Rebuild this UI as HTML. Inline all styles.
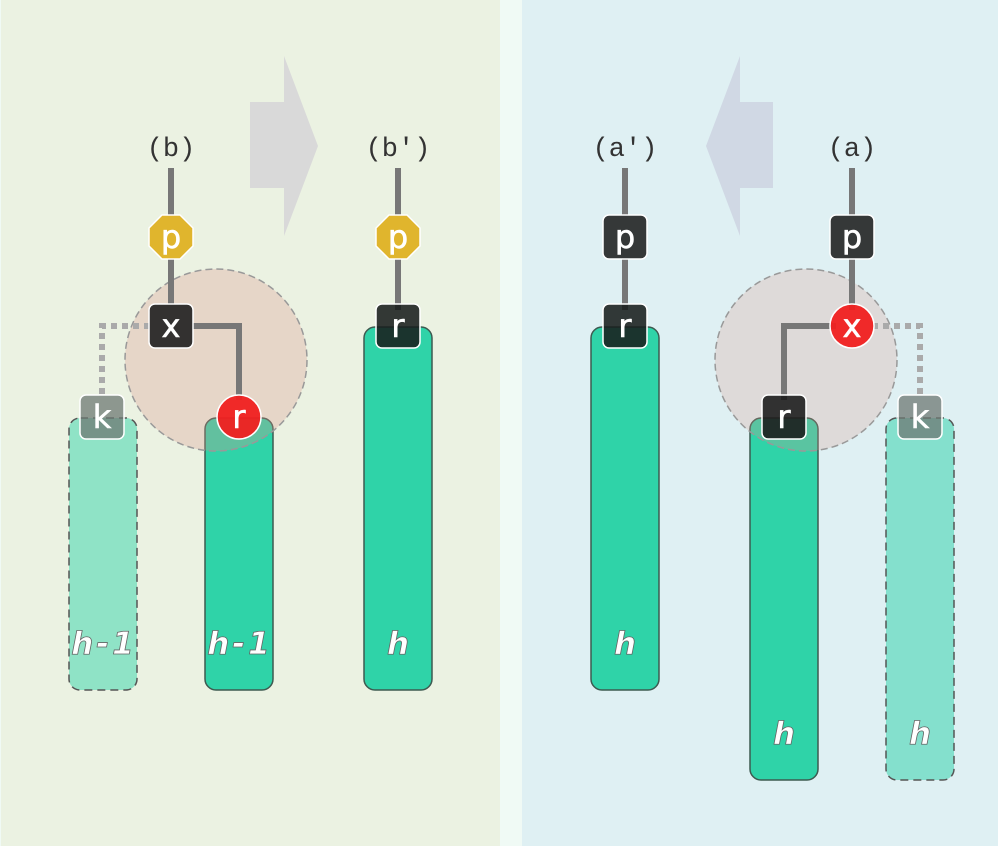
<!DOCTYPE html>
<html><head><meta charset="utf-8"><style>
html,body{margin:0;padding:0;background:#f0faf5;}
svg{display:block;}
.lbl{font-family:"Liberation Mono","DejaVu Sans Mono",monospace;font-size:27px;fill:#333;}
.nt{font-family:"DejaVu Sans","Liberation Sans",sans-serif;font-size:32px;fill:#fff;stroke:#fff;stroke-width:0.6;text-anchor:middle;}
.ht{font-family:"DejaVu Sans","Liberation Sans",sans-serif;font-size:31px;font-style:italic;font-weight:bold;fill:#fff;stroke:#666;stroke-width:0.8;text-anchor:middle;}
</style></head><body>
<svg width="998" height="846" viewBox="0 0 998 846" xmlns="http://www.w3.org/2000/svg">
<rect x="0" y="0" width="998" height="846" fill="#f0faf5"/>
<rect x="1" y="0" width="499" height="846" fill="#ebf2e2"/>
<rect x="522" y="0" width="476" height="846" fill="#dff0f3"/>

<polygon points="250,102 284,102 284,56 318,146 284,236 284,188 250,188" fill="#d9d9d9"/>
<polygon points="773,102 740,102 740,56 706,146 740,236 740,188 773,188" fill="#d0d8e4"/>

<text class="lbl" x="171" y="156" text-anchor="middle">(b)</text>
<text class="lbl" x="398" y="156" text-anchor="middle">(b')</text>
<text class="lbl" x="625" y="156" text-anchor="middle">(a')</text>
<text class="lbl" x="852" y="156" text-anchor="middle">(a)</text>

<rect x="69" y="418" width="68" height="272" rx="11" fill="#8fe3c6" stroke="#555" stroke-width="1.5" stroke-dasharray="8,5"/>
<rect x="205" y="418" width="68" height="272" rx="11" fill="#2fd3a8" stroke="#3d5a50" stroke-width="1.5"/>
<rect x="364" y="327" width="68" height="363" rx="11" fill="#2fd3a8" stroke="#3d5a50" stroke-width="1.5"/>
<rect x="591" y="327" width="68" height="363" rx="11" fill="#2fd3a8" stroke="#3d5a50" stroke-width="1.5"/>
<rect x="750" y="418" width="68" height="362" rx="11" fill="#2fd3a8" stroke="#3d5a50" stroke-width="1.5"/>
<rect x="886" y="418" width="68" height="362" rx="11" fill="#84e0cd" stroke="#555" stroke-width="1.5" stroke-dasharray="8,5"/>

<text class="ht" x="104" y="654" letter-spacing="3">h-1</text>
<text class="ht" x="240" y="654" letter-spacing="3">h-1</text>
<text class="ht" x="398" y="654">h</text>
<text class="ht" x="625" y="654">h</text>
<text class="ht" x="784" y="744">h</text>
<text class="ht" x="920" y="744">h</text>

<circle cx="216" cy="360" r="91" fill="rgba(220,150,140,0.3)" stroke="#999" stroke-width="1.5" stroke-dasharray="7,4"/>
<circle cx="806" cy="360" r="91" fill="rgba(220,150,140,0.25)" stroke="#999" stroke-width="1.5" stroke-dasharray="7,4"/>

<g stroke="#777" stroke-width="6" fill="none">
<line x1="171" y1="168" x2="171" y2="310"/>
<polyline points="190,326 239,326 239,400"/>
<line x1="398" y1="168" x2="398" y2="310"/>
<line x1="625" y1="168" x2="625" y2="310"/>
<line x1="852" y1="168" x2="852" y2="310"/>
<polyline points="836,326 784,326 784,400"/>
</g>
<g stroke="#aaa" stroke-width="6" fill="none" stroke-dasharray="6,5">
<polyline points="150,326 102,326 102,398"/>
<polyline points="872,326 920,326 920,398"/>
</g>

<g stroke="#fff" stroke-width="1.5">
<polygon points="162,215 180,215 193,228 193,246 180,259 162,259 149,246 149,228" fill="#e0b52d"/>
<polygon points="389,215 407,215 420,228 420,246 407,259 389,259 376,246 376,228" fill="#e0b52d"/>
<rect x="149" y="304" width="44" height="44" rx="6" fill="#333130"/>
<circle cx="239" cy="417" r="22" fill="#f02020" fill-opacity="0.95"/>
<rect x="80" y="395" width="44" height="44" rx="6" fill="rgba(110,120,115,0.75)"/>
<rect x="376" y="304" width="44" height="44" rx="6" fill="rgba(25,30,28,0.88)"/>
<rect x="603" y="215" width="44" height="44" rx="6" fill="#353838"/>
<rect x="603" y="304" width="44" height="44" rx="6" fill="rgba(25,30,28,0.88)"/>
<rect x="830" y="215" width="44" height="44" rx="6" fill="#353838"/>
<circle cx="852" cy="326" r="22" fill="#f02020" fill-opacity="0.95"/>
<rect x="762" y="395" width="44" height="44" rx="6" fill="rgba(25,25,25,0.88)"/>
<rect x="898" y="395" width="44" height="44" rx="6" fill="rgba(110,120,115,0.75)"/>
</g>
<text class="nt" x="171" y="248">p</text>
<text class="nt" x="398" y="248">p</text>
<text class="nt" x="171" y="337">x</text>
<text class="nt" x="239" y="428">r</text>
<text class="nt" x="102" y="428">k</text>
<text class="nt" x="398" y="337">r</text>
<text class="nt" x="625" y="248">p</text>
<text class="nt" x="625" y="337">r</text>
<text class="nt" x="852" y="248">p</text>
<text class="nt" x="852" y="337">x</text>
<text class="nt" x="784" y="428">r</text>
<text class="nt" x="920" y="428">k</text>
</svg>
</body></html>
